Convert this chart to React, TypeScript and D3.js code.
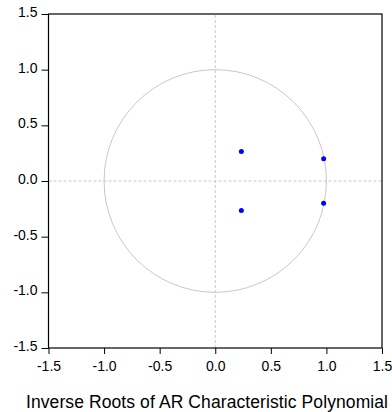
import React, { useEffect, useRef } from 'react';
import * as d3 from 'd3';

const rootRe = [0.235, 0.235, 0.975, 0.975];
const rootIm = [0.265, -0.265, 0.2, -0.2];
const tickValues = [-1.5, -1.0, -0.5, 0.0, 0.5, 1.0, 1.5];
const title = 'Inverse Roots of AR Characteristic Polynomial';

const W = 392;
const H = 412;

const App: React.FC = () => {
  const svgRef = useRef<SVGSVGElement>(null);

  useEffect(() => {
    if (!svgRef.current) return;
    const svg = d3.select(svgRef.current);
    svg.selectAll('*').remove();

    const margin = { top: 14, right: 10, bottom: 64, left: 48.5 };
    const x = d3.scaleLinear().domain([-1.5, 1.5]).range([margin.left, 382]);
    const y = d3.scaleLinear().domain([-1.5, 1.5]).range([348, margin.top]);
    const font = 'Arial, "Liberation Sans", sans-serif';
    const fmt = (d: d3.NumberValue) => (+d).toFixed(1);

    svg.append('rect').attr('width', W).attr('height', H).attr('fill', '#fff');

    // zero lines
    svg.append('line')
      .attr('x1', x(-1.5)).attr('x2', x(1.5))
      .attr('y1', y(0)).attr('y2', y(0))
      .attr('stroke', '#c8c8c8').attr('stroke-dasharray', '3,2');
    svg.append('line')
      .attr('x1', x(0)).attr('x2', x(0))
      .attr('y1', y(-1.5)).attr('y2', y(1.5))
      .attr('stroke', '#c8c8c8').attr('stroke-dasharray', '3,2');

    // unit circle
    svg.append('ellipse')
      .attr('cx', x(0)).attr('cy', y(0))
      .attr('rx', x(1) - x(0)).attr('ry', y(0) - y(1))
      .attr('fill', 'none').attr('stroke', '#c8c8c8').attr('stroke-width', 1);

    // roots
    svg.append('g').selectAll('circle')
      .data(rootRe)
      .enter().append('circle')
      .attr('cx', (d) => x(d))
      .attr('cy', (d, i) => y(rootIm[i]))
      .attr('r', 2.5)
      .attr('fill', '#0000ff');

    // frame
    svg.append('rect')
      .attr('x', x(-1.5)).attr('y', y(1.5))
      .attr('width', x(1.5) - x(-1.5)).attr('height', y(-1.5) - y(1.5))
      .attr('fill', 'none').attr('stroke', '#000').attr('stroke-width', 1.2);

    // axes
    const xAxis = svg.append('g')
      .attr('transform', `translate(0, ${y(-1.5)})`)
      .call(d3.axisBottom(x).tickValues(tickValues).tickFormat(fmt).tickSize(6).tickPadding(7));
    const yAxis = svg.append('g')
      .attr('transform', `translate(${x(-1.5)}, 0)`)
      .call(d3.axisLeft(y).tickValues(tickValues).tickFormat(fmt).tickSize(7).tickPadding(4));

    [xAxis, yAxis].forEach((a) => {
      a.select('.domain').remove();
      a.selectAll('line').attr('stroke', '#000');
      a.selectAll('text')
        .attr('fill', '#000')
        .style('font-family', font)
        .style('font-size', '14px');
    });
    yAxis.selectAll('text').attr('dy', '0.18em');

    svg.append('text')
      .attr('x', 207)
      .attr('y', 408)
      .attr('text-anchor', 'middle')
      .attr('textLength', 362)
      .style('font-family', font)
      .style('font-size', '17.5px')
      .attr('fill', '#000')
      .text(title);
  }, []);

  return (
    <svg
      ref={svgRef}
      width={W}
      height={H}
      style={{ position: 'absolute', left: 0, top: 0, display: 'block' }}
    />
  );
};

export default App;
